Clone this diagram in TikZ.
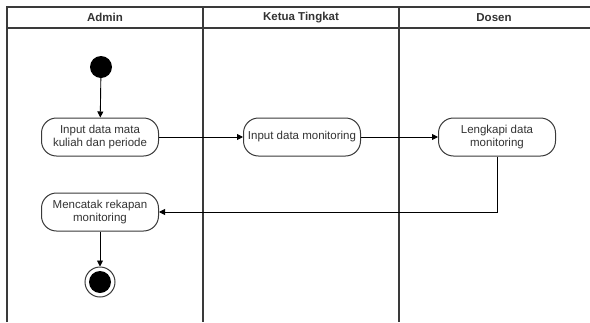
\documentclass[tikz,border=0pt]{standalone}
\usepackage{fontspec}
\setmainfont{Liberation Sans}
\usetikzlibrary{arrows.meta}
\definecolor{linegray}{HTML}{3A3A3A}
\definecolor{textgray}{HTML}{333333}
\tikzset{
  lane/.style={draw=linegray, line width=1.1pt},
  action/.style={draw=linegray, line width=1pt, rounded corners=15pt, fill=white,
    minimum width=117pt, minimum height=38pt, align=center, inner sep=2pt,
    text=textgray, font=\fontsize{11.5}{12.5}\selectfont},
  head/.style={font=\bfseries\fontsize{11.5}{13}\selectfont, text=textgray},
  flow/.style={draw=black, line width=0.9pt, -{Triangle[length=6pt,width=6pt]}},
}
\begin{document}
\begin{tikzpicture}[x=1pt, y=-1pt]
\useasboundingbox (0,0) rectangle (590,322);
\fill[white] (0,0) rectangle (590,322);

% swimlane frame
\draw[lane] (7,322) -- (7,7) -- (592,7);
\draw[lane] (7,28) -- (592,28);
\draw[lane] (203,7) -- (203,322);
\draw[lane] (399,7) -- (399,322);

% lane headers
\node[head] (hAdmin) at (105,17.5) {Admin};
\node[head] (hKetua) at (301,17.5) {Ketua Tingkat};
\node[head] (hDosen) at (494,17.5) {Dosen};

% start and end
\node[circle, fill=black, minimum size=22pt, inner sep=0pt] (start) at (101,67) {};
\node[circle, draw=linegray, line width=1pt, minimum size=30pt, inner sep=0pt] (final) at (100,282) {};
\node[circle, fill=black, minimum size=22pt, inner sep=0pt] (finalIn) at (100,282) {};

% actions
\node[action] (inputMatkul) at (100,137) {Input data mata\\kuliah dan periode};
\node[action] (inputMon) at (302,137) {Input data monitoring};
\node[action] (lengkapi) at (497,137) {Lengkapi data\\monitoring};
\node[action] (cetak) at (100,212) {Mencatak rekapan\\monitoring};

% control flow
\draw[flow] (start) -- (inputMatkul);
\draw[flow] (inputMatkul) -- (inputMon);
\draw[flow] (inputMon) -- (lengkapi);
\draw[flow] (lengkapi.south) |- (cetak.east);
\draw[flow] (cetak) -- (final);
\end{tikzpicture}
\end{document}
